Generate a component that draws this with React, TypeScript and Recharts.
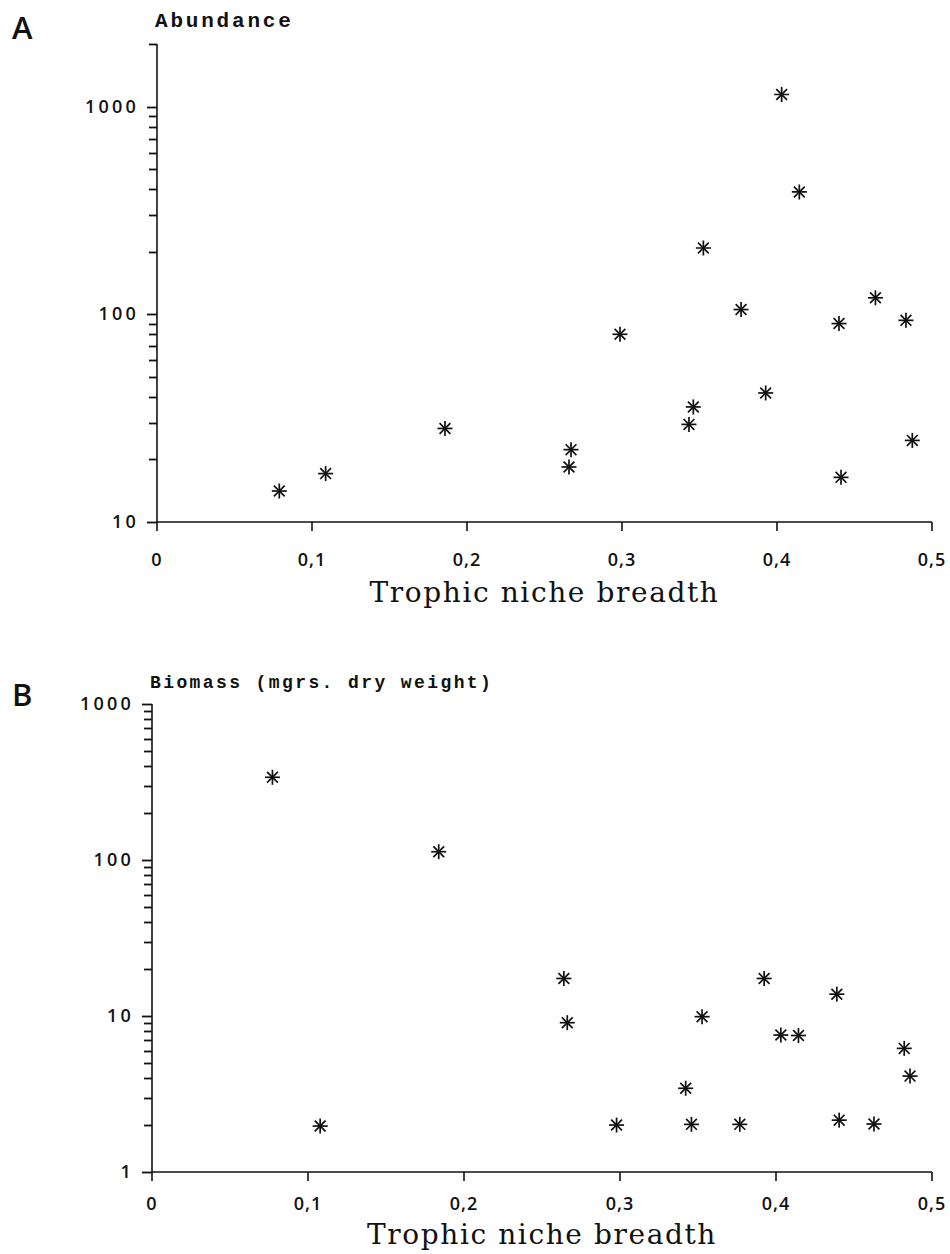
import { Scatter, ScatterChart, XAxis, YAxis } from "recharts";

// panel A: abundance vs trophic niche breadth
const abundanceNiche = [
  0.0789, 0.1088, 0.1858, 0.2658, 0.2671, 0.2987, 0.3432, 0.346, 0.3525,
  0.3768, 0.3927, 0.403, 0.4144, 0.44, 0.4413, 0.4635, 0.4832, 0.4873,
];
const abundanceValues = [
  14.1, 17.1, 28.2, 18.4, 22.3, 80.1, 29.5, 35.8, 208.5, 105.4, 41.8, 1143,
  388, 90.2, 16.4, 120, 93.5, 24.7,
];

// panel B: biomass vs trophic niche breadth
const biomassNiche = [
  0.0772, 0.1078, 0.1838, 0.264, 0.2662, 0.2978, 0.3421, 0.3458, 0.3526,
  0.3768, 0.3924, 0.4031, 0.4144, 0.439, 0.4405, 0.4628, 0.4822, 0.4859,
];
const biomassValues = [
  339, 1.97, 113, 17.4, 9.06, 2.0, 3.44, 2.02, 9.9, 2.02, 17.4, 7.55, 7.5,
  13.8, 2.15, 2.03, 6.2, 4.12,
];

const xTicks = [0, 0.1, 0.2, 0.3, 0.4, 0.5];
const abundanceTicks = [
  10, 20, 30, 40, 50, 60, 70, 80, 90, 100, 200, 300, 400, 500, 600, 700, 800,
  900, 1000, 2000,
];
const biomassTicks = [
  1, 2, 3, 4, 5, 6, 7, 8, 9, 10, 20, 30, 40, 50, 60, 70, 80, 90, 100, 200, 300,
  400, 500, 600, 700, 800, 900, 1000,
];
const majorTicks = [1, 10, 100, 1000];

const abundanceData = abundanceNiche.map((x, i) => ({ x, y: abundanceValues[i] }));
const biomassData = biomassNiche.map((x, i) => ({ x, y: biomassValues[i] }));

const tickFont = "'Open Sans', 'DejaVu Sans', sans-serif";
const titleFont = "'Liberation Mono', monospace";
const xTitleFont = "'DejaVu Serif', serif";

function Asterisk(props: any) {
  const { cx, cy } = props;
  if (cx == null || cy == null) return null;
  const r = 7.5;
  const d = r * 0.72;
  return (
    <g stroke="#111" strokeWidth={1.7}>
      <line x1={cx - r} y1={cy} x2={cx + r} y2={cy} />
      <line x1={cx} y1={cy - r} x2={cx} y2={cy + r} />
      <line x1={cx - d} y1={cy - d} x2={cx + d} y2={cy + d} />
      <line x1={cx - d} y1={cy + d} x2={cx + d} y2={cy - d} />
    </g>
  );
}

function XTick(props: any) {
  const { x, y, payload, labelDy } = props;
  const label = String(payload.value).replace(".", ",");
  return (
    <g>
      <line x1={x} x2={x} y1={y} y2={y + 9} stroke="#111" strokeWidth={1.6} />
      <text
        x={x}
        y={y + labelDy}
        textAnchor="middle"
        fontFamily={tickFont}
        fontSize={18}
        fontWeight={600}
        letterSpacing={1}
        fill="#111"
      >
        {label}
      </text>
    </g>
  );
}

function YTick(props: any) {
  const { x, y, payload } = props;
  const major = majorTicks.includes(payload.value);
  const ty = Math.round(y) + 0.5;
  return (
    <g>
      <path
        d={`M${x},${ty}H${x - (major ? 10 : 8)}`}
        stroke="#111"
        strokeWidth={1.8}
        fill="none"
      />
      {major && (
        <text
          x={x - 18}
          y={y + 6}
          textAnchor="end"
          fontFamily={tickFont}
          fontSize={18}
          fontWeight={600}
          letterSpacing={3.2}
          fill="#111"
        >
          {payload.value}
        </text>
      )}
    </g>
  );
}

interface PanelProps {
  letter: string;
  yTitle: string;
  titleSize: number;
  titleSpacing: number;
  data: { x: number; y: number }[];
  ticks: number[];
  domain: [number, number];
  top: number;
  height: number;
  marginTop: number;
  axisLeft: number;
  axisBottomHeight: number;
  labelDy: number;
  xTitleOffset: number;
  letterY: number;
  titleY: number;
}

function Panel(p: PanelProps) {
  return (
    <div style={{ position: "absolute", left: 0, top: p.top, width: 950, height: p.height }}>
      <ScatterChart
        width={950}
        height={p.height}
        margin={{ top: p.marginTop, right: 18, bottom: 0, left: 0 }}
      >
        <XAxis
          type="number"
          dataKey="x"
          domain={[0, 0.5]}
          ticks={xTicks}
          interval={0}
          height={p.axisBottomHeight}
          tickSize={0}
          tickMargin={0}
          tickLine={false}
          tick={<XTick labelDy={p.labelDy} />}
          axisLine={{ stroke: "#111", strokeWidth: 1.6 }}
          label={{
            value: "Trophic niche breadth",
            position: "insideBottom",
            offset: p.xTitleOffset,
            fontFamily: xTitleFont,
            fontSize: 28,
            letterSpacing: 1.6,
            fill: "#111",
          }}
        />
        <YAxis
          type="number"
          dataKey="y"
          scale="log"
          domain={p.domain}
          allowDataOverflow
          ticks={p.ticks}
          interval={0}
          width={p.axisLeft}
          tickSize={0}
          tickMargin={0}
          tickLine={false}
          tick={<YTick />}
          axisLine={{ stroke: "#111", strokeWidth: 1.6 }}
        />
        <Scatter data={p.data} shape={<Asterisk />} isAnimationActive={false} />
      </ScatterChart>
      <div
        style={{
          position: "absolute",
          left: 12,
          top: p.letterY,
          fontFamily: "'Open Sans', sans-serif",
          fontSize: 31,
          fontWeight: 600,
          lineHeight: 1,
          color: "#111",
        }}
      >
        {p.letter}
      </div>
      <div
        style={{
          position: "absolute",
          left: p.axisLeft - 2,
          top: p.titleY,
          fontFamily: titleFont,
          fontSize: p.titleSize,
          fontWeight: "bold",
          letterSpacing: p.titleSpacing,
          lineHeight: 1,
          color: "#111",
          whiteSpace: "nowrap",
        }}
      >
        {p.yTitle}
      </div>
    </div>
  );
}

export default function App() {
  return (
    <div style={{ position: "absolute", left: 0, top: 0, width: 950, height: 1254, background: "#fff" }}>
      <Panel
        letter="A"
        yTitle="Abundance"
        titleSize={21}
        titleSpacing={2.8}
        data={abundanceData}
        ticks={abundanceTicks}
        domain={[10, 2000]}
        top={0}
        height={612}
        marginTop={44}
        axisLeft={157}
        axisBottomHeight={90}
        labelDy={44}
        xTitleOffset={10}
        letterY={12}
        titleY={11}
      />
      <Panel
        letter="B"
        yTitle="Biomass (mgrs. dry weight)"
        titleSize={18}
        titleSpacing={2.4}
        data={biomassData}
        ticks={biomassTicks}
        domain={[1, 1000]}
        top={640}
        height={614}
        marginTop={64}
        axisLeft={152}
        axisBottomHeight={82}
        labelDy={38}
        xTitleOffset={10}
        letterY={39}
        titleY={34}
      />
    </div>
  );
}
